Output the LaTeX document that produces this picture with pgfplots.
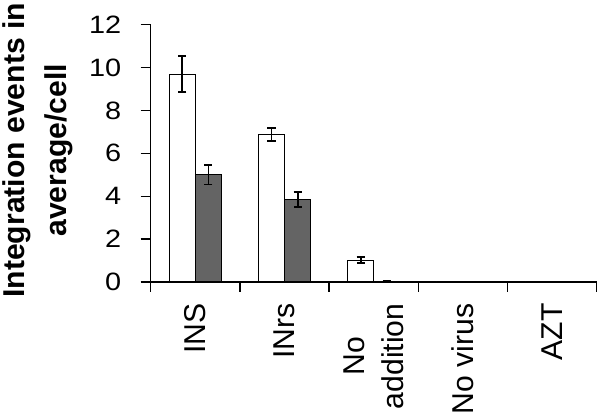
\documentclass[border=0pt]{standalone}
\usepackage{fontspec}
\setmainfont{Liberation Sans}
\newfontfamily\tickfont{Liberation Sans}[FakeStretch=1.15]
\usepackage{pgfplots}
\pgfplotsset{compat=1.18}
\definecolor{bargray}{RGB}{100,100,100}
\begin{document}
\begin{tikzpicture}
\begin{axis}[
  scale only axis, width=444pt, height=256pt,
  xmin=-0.5, xmax=4.5, ymin=0, ymax=12,
  ybar=0pt, bar width=26pt,
  axis x line=bottom, axis y line=left,
  axis line style={-, line width=1.3pt},
  tick align=outside,
  major tick length=10pt,
  tick style={line width=1.3pt, black},
  ytick={0,2,...,12},
  yticklabel style={font=\tickfont\fontsize{25}{28}\selectfont, xshift=-16pt},
  /pgf/number format/assume math mode=true,
  xtick={-0.5,0.5,...,4.5},
  xticklabels={},
  extra x ticks={0,1,2,3,4},
  extra x tick labels={INS,INrs,{No\\addition},No virus,AZT},
  extra x tick style={major tick length=0pt},
  x tick label style={rotate=90, anchor=east, align=center, font=\fontsize{30}{38}\selectfont},
  xticklabel shift=18pt,
  ylabel={Integration events in\\average/cell},
  ylabel style={font=\bfseries\fontsize{30}{41}\selectfont, align=center, inner sep=3pt, xshift=3pt, yshift=10pt},
  clip=false,
  error bars/y dir=both, error bars/y explicit,
  error bars/error bar style={line width=1.8pt, black},
  error bars/error mark options={rotate=90, mark size=4pt, line width=1.8pt, black},
]
\addplot[fill=white, draw=black, line width=0.8pt]
  coordinates {(0,9.7) +- (0,0.85) (1,6.88) +- (0,0.32) (2,1.02) +- (0,0.15) (3,0) +- (0,0) (4,0) +- (0,0)};
\addplot[fill=bargray, draw=black, line width=0.8pt]
  coordinates {(0,5.0) +- (0,0.45) (1,3.85) +- (0,0.35) (2,0.03) +- (0,0) (3,0) +- (0,0) (4,0) +- (0,0)};
\end{axis}
\end{tikzpicture}
\end{document}
